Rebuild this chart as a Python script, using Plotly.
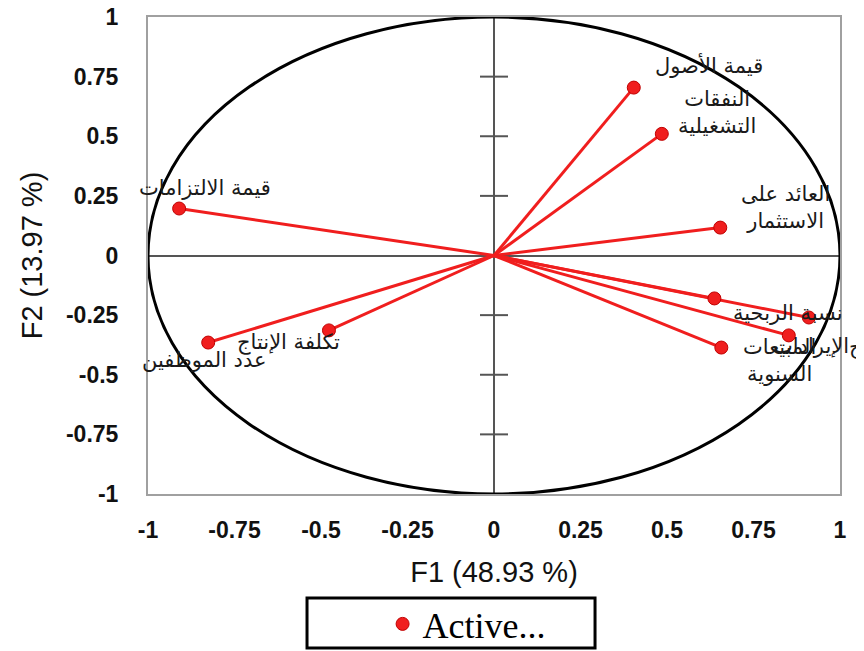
import plotly.graph_objects as go

# ---- data ----
labels = ["قيمة الأصول", "النفقات<br>التشغيلية", "العائد على<br>الاستثمار", "قيمة الالتزامات",
          "نسبة الربحية", "صافي الأرباح", "الإيرادات", "المبيعات<br>السنوية",
          "تكلفة الإنتاج", "عدد الموظفين"]
f1 = [0.404, 0.485, 0.654, -0.910, 0.637, 0.910, 0.852, 0.657, -0.826, -0.477]
f2 = [0.704, 0.510, 0.117, 0.197, -0.180, -0.260, -0.335, -0.386, -0.365, -0.314]
tick_vals = [-1, -0.75, -0.5, -0.25, 0, 0.25, 0.5, 0.75, 1]
tick_text = ["-1", "-0.75", "-0.5", "-0.25", "0", "0.25", "0.5", "0.75", "1"]
x_title = "F1 (48.93 %)"
y_title = "F2 (13.97 %)"
legend_name = "Active..."

# label placement (pixel offsets from each point) - styling only
label_shift = [(75, 22), (55, 21), (65, 20), (26, 21), (17, -15), (38, -29),
               (-18, -11), (58, -13), (80, 0), (-125, -30)]
label_anchor = ["center", "center", "center", "center", "left", "left",
                "left", "center", "center", "center"]

RED = "#f01e1e"
fig = go.Figure()

# vectors from origin
lx, ly = [], []
for a, b in zip(f1, f2):
    lx += [0, a, None]
    ly += [0, b, None]
fig.add_trace(go.Scatter(x=lx, y=ly, mode="lines", line=dict(color=RED, width=3),
                         showlegend=False, hoverinfo="skip"))

# crossing tick marks on the vertical zero axis
inner = [v for v in tick_vals if v not in (0, -1, 1)]
fig.add_trace(go.Scatter(x=[0] * len(inner), y=inner, mode="markers",
                         marker=dict(symbol="line-ew", size=20, line=dict(color="#555", width=2)),
                         showlegend=False, hoverinfo="skip"))

# points
fig.add_trace(go.Scatter(x=f1, y=f2, mode="markers", name=legend_name,
                         marker=dict(color=RED, size=13, line=dict(color="#c00000", width=1)),
                         text=labels, hoverinfo="text"))

for lab, a, b, (dx, dy), anc in zip(labels, f1, f2, label_shift, label_anchor):
    fig.add_annotation(x=a, y=b, text=lab, showarrow=False, xshift=dx, yshift=dy,
                       xanchor=anc, yanchor="middle",
                       font=dict(family="DejaVu Sans", size=21, color="#1a1a1a"))

# correlation circle
fig.add_shape(type="circle", xref="x", yref="y", x0=-1, y0=-1, x1=1, y1=1,
              line=dict(color="black", width=3), layer="above")

# legend box
fig.add_shape(type="rect", xref="paper", yref="paper", x0=0.2298, x1=0.646, y0=-0.3229, y1=-0.218,
              line=dict(color="black", width=3))

axis_common = dict(range=[-1, 1], tickvals=tick_vals, ticktext=tick_text, showgrid=False,
                   zeroline=True, zerolinecolor="#555", zerolinewidth=2,
                   showline=True, mirror=True, linecolor="#a0a0a0", linewidth=2,
                   automargin=False, ticklabeloverflow="allow",
                   ticks="", tickfont=dict(family="Liberation Sans", size=23, color="#111", weight="bold"))

fig.update_layout(
    width=856, height=643,
    margin=dict(l=140, r=24, t=9, b=157, autoexpand=False),
    paper_bgcolor="white", plot_bgcolor="white",
    xaxis=dict(**axis_common, ticklabelstandoff=14,
               title=dict(text=x_title, standoff=20, font=dict(family="Liberation Sans", size=29, color="#111"))),
    yaxis=dict(**axis_common, ticklabelstandoff=23,
               title=dict(text=y_title, standoff=15, font=dict(family="Liberation Sans", size=29, color="#111"))),
    showlegend=True,
    legend=dict(x=0.339, y=-0.2725, xanchor="left", yanchor="middle", bgcolor="rgba(0,0,0,0)",
                borderwidth=0, font=dict(family="Liberation Serif", size=36, color="black")),
)

fig.write_html("out.html")
